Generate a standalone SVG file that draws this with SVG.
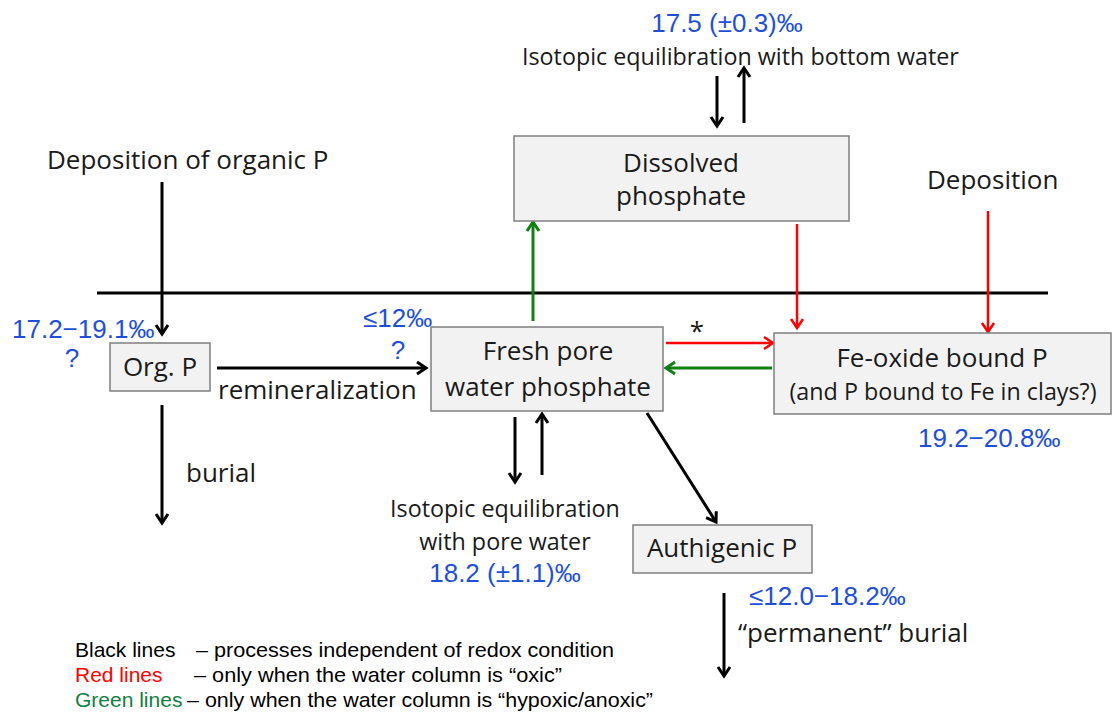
<svg xmlns="http://www.w3.org/2000/svg" width="1115" height="715" viewBox="0 0 1115 715">
<style>
.t{font-family:"Open Sans","DejaVu Sans",sans-serif;fill:#1a1a1a;font-size:26px;}
.s{font-size:23.3px;}
.b{font-family:"Liberation Sans",Arial,sans-serif;fill:#1f4fd8;font-size:26px;}
.l{font-family:"Liberation Sans",Arial,sans-serif;font-size:21px;}
.box{fill:#f2f2f2;stroke:#7f7f7f;stroke-width:1.5;}
.k{stroke:#000;stroke-width:3;fill:none;}
.r{stroke:#ff0000;stroke-width:2.5;fill:none;}
.g{stroke:#108010;stroke-width:3;fill:none;}
</style>
<defs>
<marker id="ak" markerUnits="userSpaceOnUse" markerWidth="16" markerHeight="16" refX="12" refY="8" orient="auto"><path d="M3,2 L12,8 L3,14" fill="none" stroke="#000" stroke-width="3"/></marker>
<marker id="ar" markerUnits="userSpaceOnUse" markerWidth="16" markerHeight="16" refX="12" refY="8" orient="auto"><path d="M3,2 L12,8 L3,14" fill="none" stroke="#ff0000" stroke-width="2.5"/></marker>
<marker id="ag" markerUnits="userSpaceOnUse" markerWidth="16" markerHeight="16" refX="12" refY="8" orient="auto"><path d="M3,2 L12,8 L3,14" fill="none" stroke="#108010" stroke-width="3"/></marker>
</defs>
<rect width="1115" height="715" fill="#fff"/>
<line x1="97" y1="293" x2="1048" y2="293" stroke="#000" stroke-width="3"/>

<g id="connectors">
<line class="k" x1="162" y1="182" x2="162" y2="334" marker-end="url(#ak)"/>
<line class="k" x1="217" y1="368" x2="426" y2="368" marker-end="url(#ak)"/>
<line class="k" x1="162" y1="405" x2="162" y2="523" marker-end="url(#ak)"/>
<line class="g" x1="533" y1="321" x2="533" y2="222" marker-end="url(#ag)"/>
<line class="r" x1="797" y1="224" x2="797" y2="328" marker-end="url(#ar)"/>
<line class="r" x1="988" y1="211" x2="988" y2="332" marker-end="url(#ar)"/>
<line class="r" x1="666" y1="343" x2="773" y2="343" marker-end="url(#ar)"/>
<line class="g" x1="772" y1="368" x2="666" y2="368" marker-end="url(#ag)"/>
<line class="k" x1="515" y1="417" x2="515" y2="482" marker-end="url(#ak)"/>
<line class="k" x1="542" y1="475" x2="542" y2="414" marker-end="url(#ak)"/>
<line class="k" x1="647" y1="413" x2="716" y2="522" marker-end="url(#ak)"/>
<line class="k" x1="724" y1="593" x2="724" y2="676" marker-end="url(#ak)"/>
<line class="k" x1="717" y1="76" x2="717" y2="126" marker-end="url(#ak)"/>
<line class="k" x1="744" y1="123" x2="744" y2="68" marker-end="url(#ak)"/>
</g>

<g id="top-label">
<text class="b" x="727" y="32" text-anchor="middle">17.5 (±0.3)‰</text>
<text class="t s" x="522" y="65">Isotopic equilibration with bottom water</text>
</g>

<g id="dissolved">
<rect class="box" x="514" y="136" width="335" height="85"/>
<text class="t" x="681" y="172" text-anchor="middle">Dissolved</text>
<text class="t" x="681" y="205" text-anchor="middle">phosphate</text>
</g>

<g id="dep-org">
<text class="t" x="47" y="169">Deposition of organic P</text>
</g>
<g id="dep">
<text class="t" x="927" y="189">Deposition</text>
</g>

<g id="orgp">
<rect class="box" x="110" y="343" width="100" height="48"/>
<text class="t" x="160" y="376" text-anchor="middle">Org. P</text>
<text class="b" x="12" y="338">17.2−19.1‰</text>
<text class="b" x="72" y="367" text-anchor="middle">?</text>
</g>
<text class="t" x="218" y="399">remineralization</text>
<text class="t" x="186" y="482">burial</text>

<g id="fresh">
<rect class="box" x="431" y="327" width="232" height="84"/>
<text class="t" x="548" y="360" text-anchor="middle">Fresh pore</text>
<text class="t" x="548" y="396" text-anchor="middle">water phosphate</text>
<text class="b" x="363" y="327">≤12‰</text>
<text class="b" x="398" y="359" text-anchor="middle">?</text>
</g>
<text class="t" x="697" y="340" text-anchor="middle">*</text>

<g id="feoxide">
<rect class="box" x="774" y="333" width="337" height="81"/>
<text class="t" x="942" y="367" text-anchor="middle">Fe-oxide bound P</text>
<text class="t s" x="943" y="400" text-anchor="middle">(and P bound to Fe in clays?)</text>
<text class="b" x="918" y="447">19.2−20.8‰</text>
</g>

<g id="pore-eq">
<text class="t s" x="505" y="517" text-anchor="middle">Isotopic equilibration</text>
<text class="t s" x="505" y="550" text-anchor="middle">with pore water</text>
<text class="b" x="505" y="582" text-anchor="middle">18.2 (±1.1)‰</text>
</g>

<g id="authigenic">
<rect class="box" x="633" y="525" width="179" height="48"/>
<text class="t" x="722" y="557" text-anchor="middle">Authigenic P</text>
<text class="b" x="749" y="605">≤12.0−18.2‰</text>
<text class="t" x="738" y="642">“permanent” burial</text>
</g>

<g id="legend" class="l">
<text x="75" y="657" fill="#000">Black lines</text>
<text x="196" y="657" fill="#000" textLength="418" lengthAdjust="spacingAndGlyphs">– processes independent of redox condition</text>
<text x="75" y="682" fill="#ff0000">Red lines</text>
<text x="194" y="682" fill="#000" textLength="368" lengthAdjust="spacingAndGlyphs">– only when the water column is “oxic”</text>
<text x="75" y="707" fill="#108040">Green lines</text>
<text x="187" y="707" fill="#000" textLength="466" lengthAdjust="spacingAndGlyphs">– only when the water column is “hypoxic/anoxic”</text>
</g>
</svg>
